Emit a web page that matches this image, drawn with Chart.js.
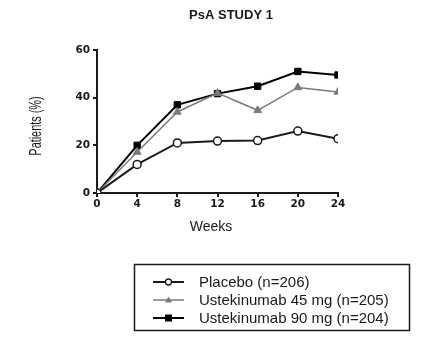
<!DOCTYPE html>
<html>
<head>
<meta charset="utf-8">
<script src="https://cdn.jsdelivr.net/npm/chart.js@4"></script>
<style>
  html,body{margin:0;padding:0;background:#fff;}
  #wrap{width:429px;height:350px;}
</style>
</head>
<body>
<div id="wrap"><canvas id="c"></canvas></div>
<script>
/* données */
const weeks    = [0, 4, 8, 12, 16, 20, 24];
const placebo  = [0, 12, 21, 21.8, 22, 26, 22.8];
const uste45   = [0, 17.2, 34, 41.9, 34.7, 44.3, 42.4];
const uste90   = [0, 20, 37, 41.7, 44.8, 51, 49.5];
const labels   = ['Placebo (n=206)', 'Ustekinumab 45 mg (n=205)', 'Ustekinumab 90 mg (n=204)'];
const yTicks   = [0, 20, 40, 60];

const pts = arr => arr.map((v,i) => ({x: weeks[i], y: v}));
const ink = '#1a1a1a', grey = '#7a7a7a';
const sans = '"Liberation Sans", Arial, sans-serif';

/* titres + légende encadrée, dessinés à la main */
const extras = {
  id: 'extras',
  afterDraw(chart){
    const c = chart.ctx;
    c.save();
    c.fillStyle = ink;
    c.textAlign = 'center'; c.textBaseline = 'middle';
    c.font = 'bold 13px ' + sans;
    c.fillText('PsA STUDY 1', 231, 15);
    c.font = '14px ' + sans;
    c.fillText('Weeks', 211, 227);
    // titre Y étroit
    c.save();
    c.translate(37, 126); c.rotate(-Math.PI/2); c.scale(0.68, 1);
    c.font = '16px ' + sans;
    c.fillText('Patients (%)', 0, 0);
    c.restore();

    // légende
    c.strokeStyle = ink; c.lineWidth = 1.5;
    c.strokeRect(134.5, 264.5, 275, 66);
    const rows = [282, 300, 318];
    chart.data.datasets.forEach((ds, i) => {
      const y = rows[i];
      c.strokeStyle = ds.borderColor; c.lineWidth = ds.borderWidth;
      c.beginPath(); c.moveTo(153, y); c.lineTo(184, y); c.stroke();
      c.fillStyle = ds.pointBackgroundColor; c.strokeStyle = ds.pointBorderColor;
      c.lineWidth = 1.3;
      c.beginPath();
      if (ds.pointStyle === 'circle') { c.arc(168.5, y, 3, 0, Math.PI*2); c.fill(); c.stroke(); }
      else if (ds.pointStyle === 'rect') { c.fillRect(165, y-3.5, 7, 7); }
      else { c.moveTo(168.5, y-3.5); c.lineTo(172, y+2.5); c.lineTo(165, y+2.5); c.closePath(); c.fill(); }
      c.fillStyle = ink;
      c.font = '15px ' + sans;
      c.textAlign = 'left';
      c.fillText(labels[i], 199, y + 0.5);
    });
    c.restore();
  }
};

new Chart(document.getElementById('c'), {
  type: 'line',
  data: {
    datasets: [
      { label: labels[0], data: pts(placebo), borderColor: ink, borderWidth: 2,
        pointStyle: 'circle', pointRadius: 4, pointBackgroundColor: '#fff',
        pointBorderColor: ink, pointBorderWidth: 1.5 },
      { label: labels[1], data: pts(uste45), borderColor: grey, borderWidth: 1.5,
        pointStyle: 'triangle', pointRadius: 4.5, pointBackgroundColor: grey,
        pointBorderColor: grey, pointBorderWidth: 1 },
      { label: labels[2], data: pts(uste90), borderColor: '#000', borderWidth: 2,
        pointStyle: 'rect', pointRadius: 4.5, pointBackgroundColor: '#000',
        pointBorderColor: '#000', pointBorderWidth: 1 }
    ]
  },
  plugins: [extras],
  options: {
    responsive: true, maintainAspectRatio: false, animation: false,
    layout: { padding: { left: 28, right: 91, top: 50, bottom: 112 } },
    plugins: {
      legend: { display: false },
      tooltip: { enabled: false },
      title: { display: false }
    },
    scales: {
      x: {
        type: 'linear', min: 0, max: 24,
        afterBuildTicks: s => { s.ticks = weeks.map(v => ({value: v})); },
        afterFit: s => { s.height = 45; },
        border: { color: ink, width: 2 },
        grid: { drawOnChartArea: false, drawTicks: true, tickLength: 4, color: ink, lineWidth: 2 },
        ticks: { color: ink, padding: 1,
                 font: { family: '"DejaVu Sans", sans-serif', size: 10.5, weight: 'bold' } }
      },
      y: {
        min: 0, max: 60,
        afterBuildTicks: s => { s.ticks = yTicks.map(v => ({value: v})); },
        afterFit: s => { s.width = 69; },
        border: { color: ink, width: 2 },
        grid: { drawOnChartArea: false, drawTicks: true, tickLength: 4, color: ink, lineWidth: 2 },
        ticks: { color: ink, padding: 3,
                 font: { family: '"DejaVu Sans", sans-serif', size: 10.5, weight: 'bold' } }
      }
    }
  }
});
</script>
</body>
</html>
